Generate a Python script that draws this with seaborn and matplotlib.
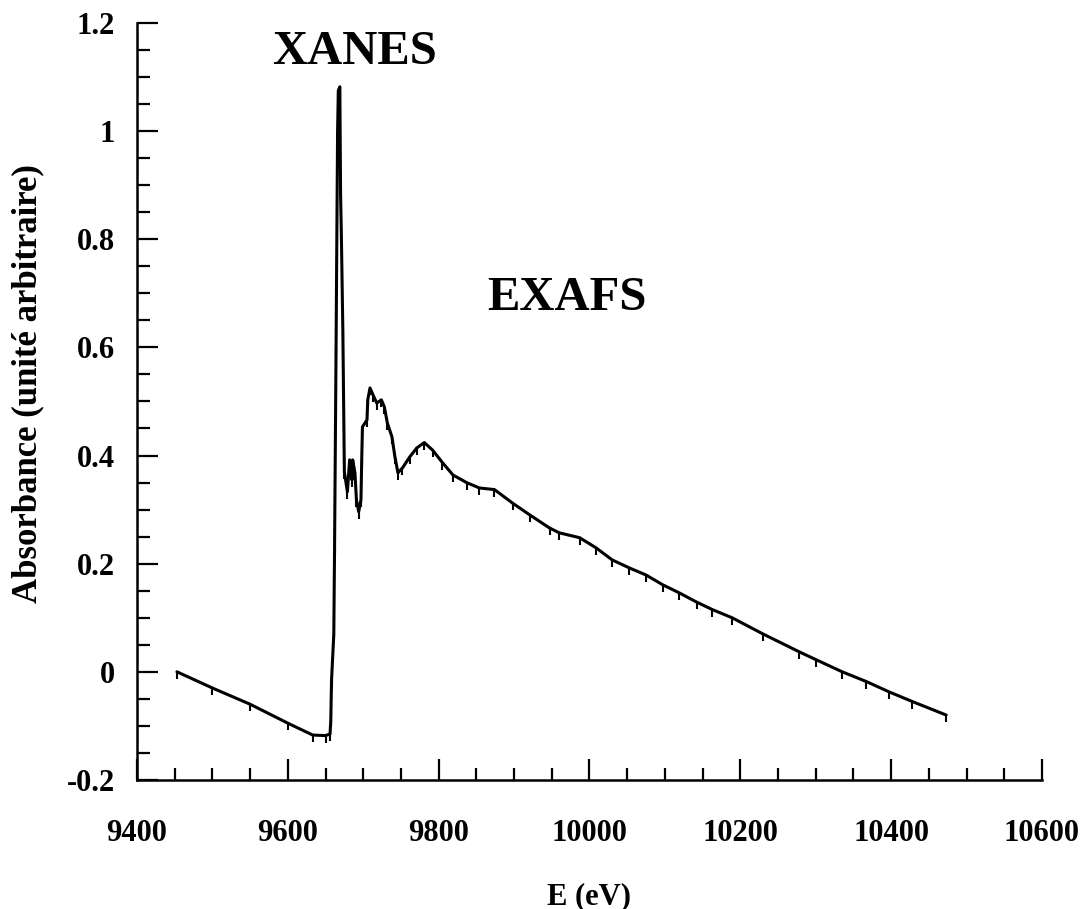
import numpy as np
import pandas as pd
import seaborn as sns
import matplotlib.pyplot as plt
from matplotlib.ticker import MultipleLocator

# energy (eV) and absorbance
energy = [9453, 9500, 9550, 9600, 9633, 9650, 9656, 9657, 9658, 9661, 9662, 9664,
          9666, 9667, 9669, 9670, 9671, 9673, 9675, 9679, 9682, 9685, 9686, 9689,
          9691, 9694, 9697, 9698, 9699, 9705, 9706, 9709, 9713, 9718, 9724, 9728,
          9732, 9738, 9742, 9746, 9752, 9762, 9771, 9781, 9792, 9805, 9819, 9837,
          9854, 9874, 9898, 9921, 9947, 9960, 9987, 10009, 10030, 10053, 10075,
          10097, 10119, 10142, 10163, 10189, 10230, 10278, 10301, 10335, 10367,
          10397, 10428, 10473]
absorbance = [0.0, -0.03, -0.06, -0.095, -0.117, -0.118, -0.115, -0.09, -0.015, 0.07,
              0.23, 0.6, 1.0, 1.075, 1.082, 0.88, 0.81, 0.63, 0.37, 0.333, 0.392,
              0.355, 0.392, 0.368, 0.318, 0.296, 0.318, 0.392, 0.453, 0.466, 0.503,
              0.525, 0.512, 0.497, 0.503, 0.49, 0.46, 0.435, 0.398, 0.368, 0.377,
              0.398, 0.414, 0.424, 0.41, 0.387, 0.364, 0.35, 0.34, 0.337, 0.312,
              0.29, 0.266, 0.257, 0.248, 0.229, 0.207, 0.192, 0.179, 0.161, 0.146,
              0.129, 0.115, 0.1, 0.07, 0.037, 0.022, 0.0, -0.018, -0.037, -0.055,
              -0.08]

x_ticks = [9400, 9600, 9800, 10000, 10200, 10400, 10600]
y_ticks = [-0.2, 0, 0.2, 0.4, 0.6, 0.8, 1, 1.2]
y_ticklabels = ["-0.2", "0", "0.2", "0.4", "0.6", "0.8", "1", "1.2"]

df = pd.DataFrame({"E": energy, "A": absorbance})

sns.set_theme(style="ticks")
plt.rcParams["font.family"] = ["Liberation Serif", "DejaVu Serif"]
plt.rcParams["font.weight"] = "bold"
plt.rcParams["text.color"] = "black"
plt.rcParams["axes.labelcolor"] = "black"

fig = plt.figure(figsize=(10.87, 9.09), dpi=100)
ax = fig.add_axes([0.126, 0.142, 0.8326, 0.8327])

sns.lineplot(data=df, x="E", y="A", sort=False, estimator=None, color="black",
             linewidth=2.2, marker=3, markersize=5, markeredgewidth=1.5,
             markeredgecolor="black", markerfacecolor="black", ax=ax)

ax.set_xlim(9400, 10600)
ax.set_ylim(-0.2, 1.2)
ax.set_xticks(x_ticks)
ax.set_yticks(y_ticks)
ax.set_yticklabels(y_ticklabels)
ax.xaxis.set_minor_locator(MultipleLocator(50))
ax.yaxis.set_minor_locator(MultipleLocator(0.05))

for s in ["top", "right"]:
    ax.spines[s].set_visible(False)
for s in ["left", "bottom"]:
    ax.spines[s].set_linewidth(1.8)
    ax.spines[s].set_color("black")

ax.tick_params(which="major", direction="in", length=15, width=1.6, colors="black",
               labelsize=22)
ax.tick_params(which="minor", direction="in", length=9, width=1.6, colors="black")
ax.tick_params(axis="x", which="major", pad=28)
ax.tick_params(axis="y", which="major", pad=16)
for lab in ax.get_xticklabels() + ax.get_yticklabels():
    lab.set_fontweight("bold")

ax.set_xlabel("E (eV)", fontsize=22, fontweight="bold")
ax.set_ylabel("Absorbance (unité arbitraire)", fontsize=25, fontweight="bold")
ax.xaxis.set_label_coords(0.5, -0.135)
ax.yaxis.set_label_coords(-0.102, 0.524)

ax.text(9689, 1.147, "XANES", fontsize=35, fontweight="bold", ha="center", va="center")
ax.text(9970, 0.692, "EXAFS", fontsize=35, fontweight="bold", ha="center", va="center")

fig.savefig("out.png", dpi=100, facecolor="white")
